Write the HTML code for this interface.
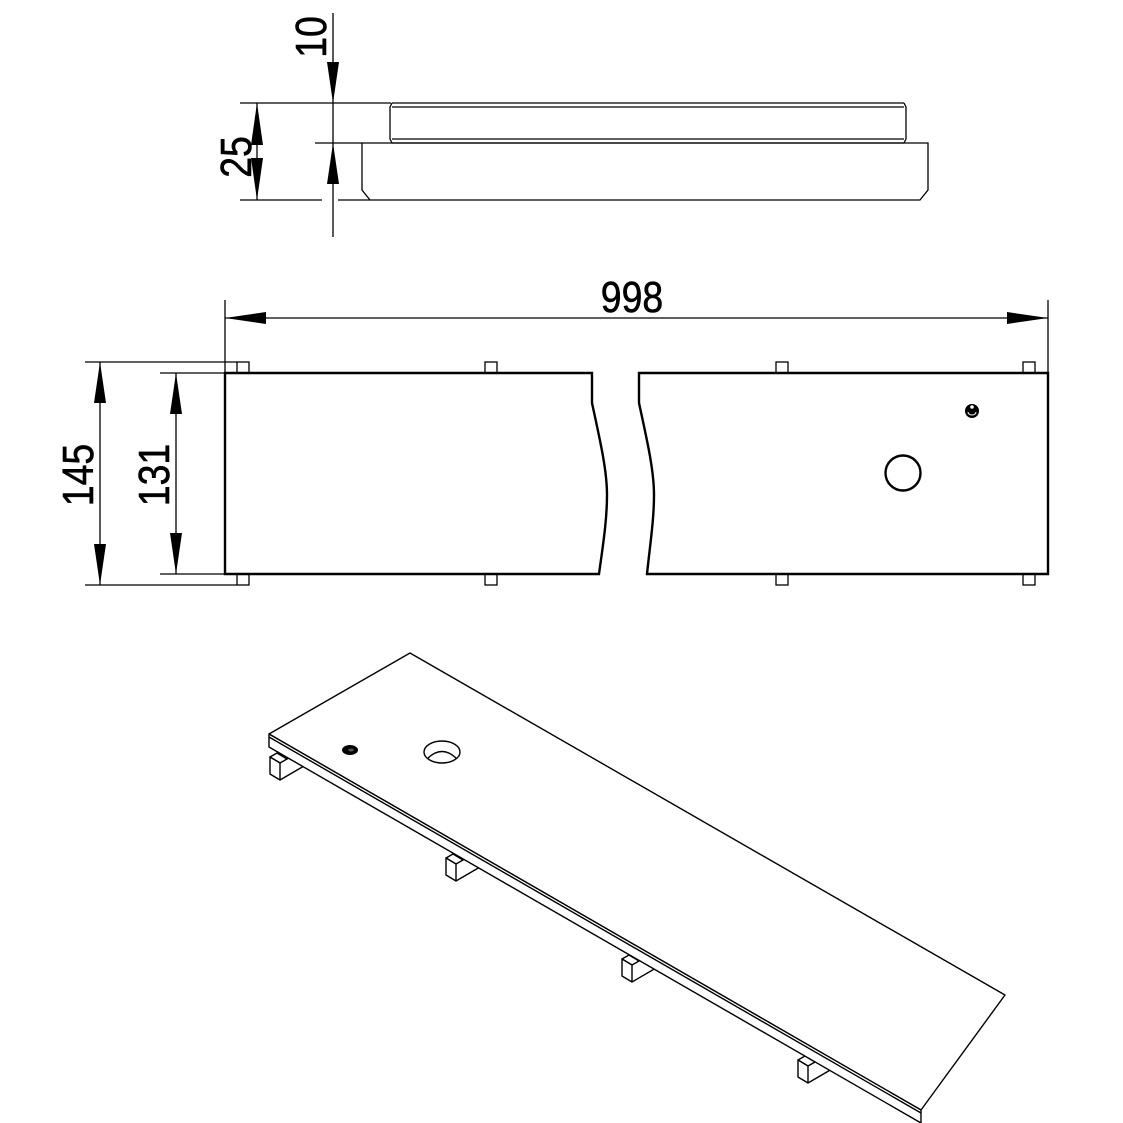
<!DOCTYPE html>
<html><head><meta charset="utf-8"><style>
html,body{margin:0;padding:0;background:#fff;}
svg{display:block;}
text{font-family:"Liberation Sans",sans-serif;fill:#000;}
</style></head><body>
<svg width="1123" height="1123" viewBox="0 0 1123 1123" xmlns="http://www.w3.org/2000/svg">
<g fill="none" stroke="#000" stroke-width="1.3">
<line x1="333" y1="13" x2="333" y2="237"/>
<line x1="240" y1="103" x2="391" y2="103"/>
<line x1="315" y1="143" x2="362" y2="143"/>
<line x1="240" y1="200" x2="322" y2="200"/>
<line x1="338" y1="200" x2="370" y2="200"/>
<line x1="257" y1="103" x2="257" y2="200"/>
<path d="M392 103 H904 M392 107 H904 M392 139 H904 M392 143 H904"/>
<path d="M392 103 L390 107 V139 L392 143 M904 103 L906 107 V139 L904 143"/>
<path d="M362 143 H928 V190 L920 200 H370 L362 190 Z"/>
</g>
<g fill="#000">
<polygon points="333,103 327,62 339,62"/>
<polygon points="333,143 327,184 339,184"/>
<polygon points="257,103 251,145 263,145"/>
<polygon points="257,200 251,158 263,158"/>
</g>
<text transform="translate(326,37) rotate(-90) scale(0.85,1)" font-size="44" text-anchor="middle" stroke="#000" stroke-width="0.6">10</text>
<text transform="translate(251,157) rotate(-90) scale(0.85,1)" font-size="44" text-anchor="middle" stroke="#000" stroke-width="0.6">25</text>

<g fill="none" stroke="#000" stroke-width="1.3">
<line x1="225" y1="300" x2="225" y2="373"/>
<line x1="1048" y1="300" x2="1048" y2="373"/>
<line x1="225" y1="318" x2="1048" y2="318"/>
<line x1="85" y1="362" x2="237" y2="362"/>
<line x1="85" y1="585" x2="237" y2="585"/>
<line x1="160" y1="373" x2="225" y2="373"/>
<line x1="160" y1="574" x2="225" y2="574"/>
<line x1="100" y1="362" x2="100" y2="585"/>
<line x1="176" y1="373" x2="176" y2="574"/>
<rect x="237" y="362" width="12" height="11"/>
<rect x="237" y="574" width="12" height="11"/>
<rect x="485" y="362" width="12" height="11"/>
<rect x="485" y="574" width="12" height="11"/>
<rect x="776" y="362" width="12" height="11"/>
<rect x="776" y="574" width="12" height="11"/>
<rect x="1023" y="362" width="12" height="11"/>
<rect x="1023" y="574" width="12" height="11"/>
</g>
<g fill="none" stroke="#000" stroke-width="2.4">
<path d="M592 373 H225 V574 H599 C603 545 607 520 607 495 C607 470 600 440 592 403 Z" fill="#fff"/>
<path d="M639 373 H1048 V574 H647 C650 545 654 520 654 495 C654 470 647 440 639 403 Z" fill="#fff"/>
<circle cx="903" cy="473" r="17.5"/>
</g>
<circle cx="972" cy="411" r="7" fill="#000"/>
<path d="M968 412 a4 3 0 0 0 8 0" stroke="#fff" stroke-width="1" fill="none"/>
<circle cx="972" cy="407" r="1.8" fill="#fff"/>
<g fill="#000">
<polygon points="225,318 266,312 266,324"/>
<polygon points="1048,318 1007,312 1007,324"/>
<polygon points="100,362 94,403 106,403"/>
<polygon points="100,585 94,544 106,544"/>
<polygon points="176,373 170,414 182,414"/>
<polygon points="176,574 170,533 182,533"/>
</g>
<text transform="translate(632,312) scale(0.85,1)" font-size="44" text-anchor="middle" stroke="#000" stroke-width="0.6">998</text>
<text transform="translate(93,475) rotate(-90) scale(0.85,1)" font-size="44" text-anchor="middle" stroke="#000" stroke-width="0.6">145</text>
<text transform="translate(169,475) rotate(-90) scale(0.85,1)" font-size="44" text-anchor="middle" stroke="#000" stroke-width="0.6">131</text>

<g fill="#fff" stroke="#000" stroke-width="1.4" stroke-linejoin="round">
<g id="foot" transform="translate(270,757)">
<path d="M0 0 L7 -4 L17 2 L10 6 Z"/>
<path d="M0 0 L10 6 V23 L0 17 Z"/>
<path d="M10 23 L34 9 M17 2 L24 -2"/>
</g>
<use href="#foot" transform="translate(176,101)"/>
<use href="#foot" transform="translate(352,202)"/>
<use href="#foot" transform="translate(528,303)"/>
<path d="M269 734 L410 653 L1005 995 L921 1110 Z"/>
<path d="M269 734 V747 L921 1123 V1110 Z"/>
<path d="M269 737 L921 1113" fill="none"/>
<ellipse cx="442" cy="752" rx="18" ry="11"/>
<path d="M428 758 Q442 745 456 758" fill="none"/>
</g>
<ellipse cx="350" cy="750" rx="8" ry="5" fill="#000"/>
<ellipse cx="351" cy="750" rx="3" ry="1.5" fill="#555"/>
</svg>
</body></html>
